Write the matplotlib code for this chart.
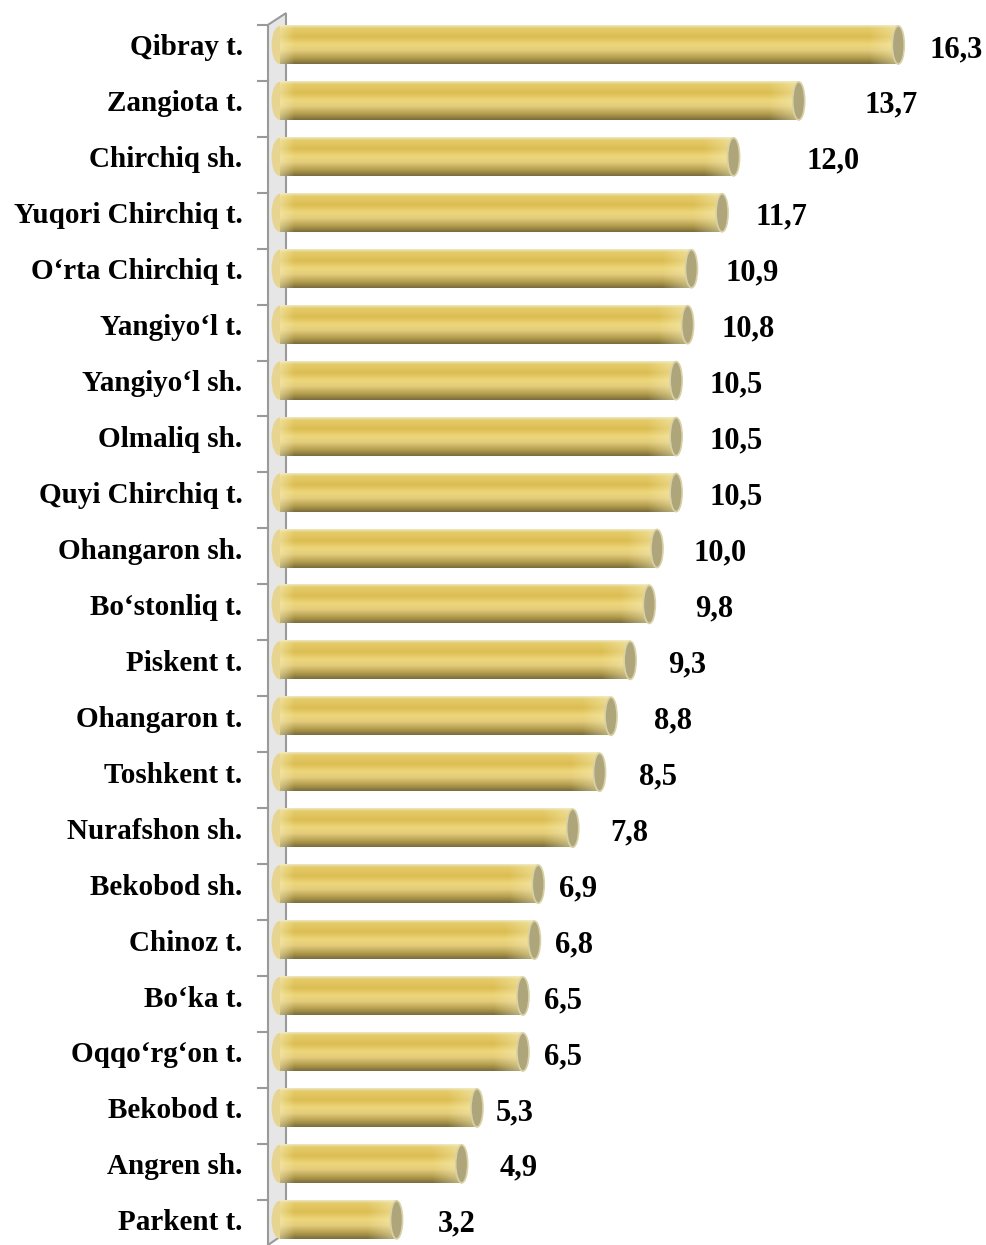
import numpy as np
import matplotlib
matplotlib.use('Agg')
import matplotlib.pyplot as plt
from matplotlib.patches import Ellipse, Polygon
from matplotlib.transforms import blended_transform_factory

# data, top to bottom
districts = ["Qibray t.", "Zangiota t.", "Chirchiq sh.", "Yuqori Chirchiq t.",
             "O\u2018rta Chirchiq t.", "Yangiyo\u2018l t.", "Yangiyo\u2018l sh.",
             "Olmaliq sh.", "Quyi Chirchiq t.", "Ohangaron sh.", "Bo\u2018stonliq t.",
             "Piskent t.", "Ohangaron t.", "Toshkent t.", "Nurafshon sh.",
             "Bekobod sh.", "Chinoz t.", "Bo\u2018ka t.", "Oqqo\u2018rg\u2018on t.",
             "Bekobod t.", "Angren sh.", "Parkent t."]
values = [16.3, 13.7, 12.0, 11.7, 10.9, 10.8, 10.5, 10.5, 10.5, 10.0, 9.8,
          9.3, 8.8, 8.5, 7.8, 6.9, 6.8, 6.5, 6.5, 5.3, 4.9, 3.2]
value_labels = ["16,3", "13,7", "12,0", "11,7", "10,9", "10,8", "10,5", "10,5",
                "10,5", "10,0", "9,8", "9,3", "8,8", "8,5", "7,8", "6,9", "6,8",
                "6,5", "6,5", "5,3", "4,9", "3,2"]
# gap (px) between bar end and its value label, as placed in the original
label_gap = [25, 60, 67, 27, 28, 28, 27, 27, 27, 31, 40, 32, 37, 33, 32,
             15, 15, 15, 15, 13, 32, 35]

W, H = 987, 1245
PX = 38.3  # pixels per unit
fig = plt.figure(figsize=(W / 100, H / 100), dpi=100)
ax = fig.add_axes([280 / W, 0, 1 - 280 / W, 1 - 17 / H])
xmax = (W - 280) / PX

font = 'Liberation Serif'
bar_h = 0.68
cap_w = 12 / PX

# vertical colour profile of the cylinder (top -> bottom)
stops = [0.0, 0.07, 0.3, 0.5, 0.65, 0.85, 1.0]
cols = np.array([[0.93, 0.90, 0.76],
                 [0.90, 0.80, 0.42],
                 [0.86, 0.74, 0.32],
                 [0.93, 0.84, 0.48],
                 [0.89, 0.80, 0.48],
                 [0.70, 0.61, 0.30],
                 [0.48, 0.43, 0.24]])
ny = 60
t = np.linspace(0, 1, ny)
profile = np.stack([np.interp(t, stops, cols[:, k]) for k in range(3)], axis=1)
cream = np.array([0.97, 0.94, 0.74])

for i, v in enumerate(values):
    body_end = v - cap_w / 2
    nx = max(int(body_end * PX), 10)
    img = np.repeat(profile[:, None, :], nx, axis=1)
    xs = np.arange(nx)
    # highlight toward the right end and a lighter left start
    w_r = np.clip(1 - (nx - xs) / 30.0, 0, 1) * 0.55
    w_l = np.clip(1 - xs / 14.0, 0, 1) * 0.5
    wgt = np.maximum(w_r, w_l)[None, :, None]
    img = img * (1 - wgt) + cream * wgt

    left = Ellipse((0, i), 1.4 * cap_w, bar_h, facecolor='#e6d490', edgecolor='none',
                   clip_on=False, zorder=2)
    ax.add_patch(left)
    ax.imshow(img, extent=(0, body_end, i + bar_h / 2, i - bar_h / 2),
              origin='upper', aspect='auto', interpolation='bilinear', zorder=3)
    cap = Ellipse((body_end, i), cap_w, bar_h, facecolor='#aea67a',
                  edgecolor='#d9d1a6', linewidth=1.2, clip_on=False, zorder=4)
    ax.add_patch(cap)
    ax.text(v + label_gap[i] / PX, i + 0.08, value_labels[i], ha='left', va='center',
            fontsize=22, fontweight='bold', family=font, zorder=5)

ax.set_xlim(0, xmax)
ax.set_ylim(21.45, -0.5)

# side wall and tick marks
tr = blended_transform_factory(fig.transFigure, ax.transData)
wall = Polygon([(268 / W, -0.36), (286 / W, -0.57), (286 / W, 21.23), (268 / W, 21.45)],
               closed=True, facecolor='#e6e6e6', edgecolor='#9a9a9a', linewidth=1.5,
               transform=tr, clip_on=False, zorder=1)
ax.add_patch(wall)
for k in range(len(values) + 1):
    ax.plot([258 / W, 268 / W], [k - 0.36, k - 0.36], transform=tr,
            color='#9a9a9a', linewidth=1.5, clip_on=False, zorder=1)

ax.set_yticks(range(len(districts)))
ax.set_yticklabels(districts, fontsize=21, fontweight='bold', family=font)
ax.tick_params(axis='y', length=0, pad=27)
ax.set_xticks([])
for s in ax.spines.values():
    s.set_visible(False)
ax.patch.set_alpha(0)

fig.savefig('out.png', dpi=100)
